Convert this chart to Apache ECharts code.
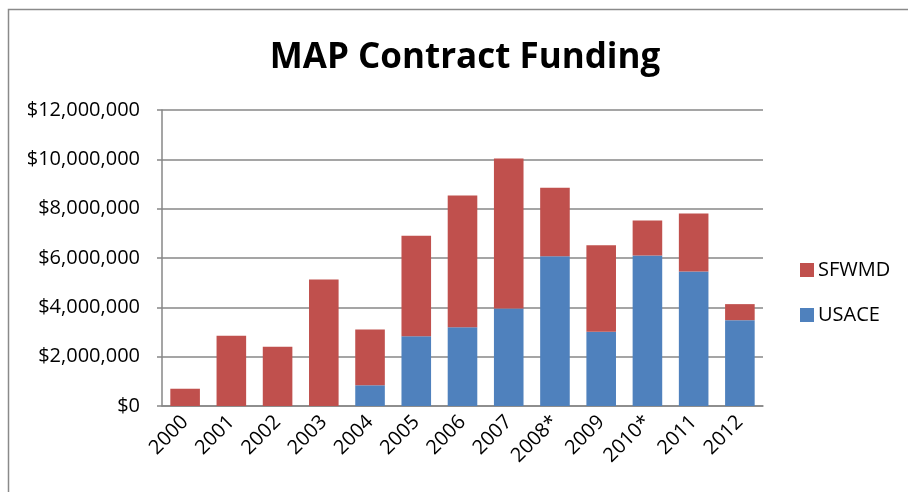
<!DOCTYPE html>
<html>
<head>
<meta charset="utf-8">
<script src="https://cdn.jsdelivr.net/npm/echarts@6/dist/echarts.min.js"></script>
<style>
  html, body { margin: 0; padding: 0; background: #fff; }
  #chart { width: 908px; height: 492px; }
</style>
</head>
<body>
<div id="chart"></div>
<script>
// Fiscal years (asterisk marks partial-year figures)
const years = ['2000', '2001', '2002', '2003', '2004', '2005', '2006', '2007', '2008*', '2009', '2010*', '2011', '2012'];

// Funding by agency, in dollars
const usace = [0, 0, 0, 0, 840000, 2830000, 3190000, 3950000, 6070000, 3010000, 6100000, 5450000, 3480000];
const sfwmd = [700000, 2850000, 2400000, 5130000, 2260000, 4070000, 5340000, 6080000, 2780000, 3510000, 1420000, 2350000, 650000];

// Value axis ticks
const yTicks = [0, 2000000, 4000000, 6000000, 8000000, 10000000, 12000000];

const FONT = 'Open Sans';
const GRAY = '#878787';

function money(v) {
  return '$' + Math.round(v).toLocaleString('en-US');
}

const chart = echarts.init(document.getElementById('chart'), null, { renderer: 'canvas' });

chart.setOption({
  backgroundColor: '#ffffff',
  animation: false,
  textStyle: { fontFamily: FONT },
  graphic: [{
    type: 'rect',
    shape: { x: 8.5, y: 9.5, width: 1000, height: 1000 },
    style: { fill: 'none', stroke: '#8a8a8a', lineWidth: 1.5 },
    silent: true
  }],
  title: {
    text: 'MAP Contract Funding',
    left: 460,
    textAlign: 'center',
    top: 36,
    textStyle: { fontFamily: FONT, fontWeight: 'bold', fontSize: 35, color: '#000' }
  },
  legend: {
    orient: 'vertical',
    left: 800,
    top: 260,
    padding: 0,
    itemWidth: 14,
    itemHeight: 14,
    itemGap: 25,
    icon: 'rect',
    data: ['SFWMD', 'USACE'],
    textStyle: { fontFamily: FONT, fontSize: 20, color: '#000', padding: [0, 0, 0, -1] }
  },
  grid: { left: 162, right: 145, top: 110, bottom: 86, containLabel: false },
  xAxis: {
    type: 'category',
    data: years,
    axisLine: { lineStyle: { color: GRAY, width: 1.5 } },
    axisTick: { show: false },
    axisLabel: {
      rotate: 45,
      interval: 0,
      margin: 13,
      fontFamily: FONT,
      fontSize: 20,
      color: '#000'
    }
  },
  yAxis: {
    type: 'value',
    min: yTicks[0],
    max: yTicks[yTicks.length - 1],
    interval: yTicks[1] - yTicks[0],
    axisLine: { show: true, lineStyle: { color: GRAY, width: 1.5 } },
    axisTick: { show: true, length: 5, lineStyle: { color: GRAY, width: 1.5 } },
    splitLine: { lineStyle: { color: GRAY, width: 1.5 } },
    axisLabel: {
      margin: 22,
      fontFamily: FONT,
      fontSize: 20,
      color: '#000',
      formatter: money
    }
  },
  series: [
    {
      name: 'USACE',
      type: 'bar',
      stack: 'total',
      data: usace,
      barCategoryGap: '36%',
      itemStyle: { color: '#4F81BD' }
    },
    {
      name: 'SFWMD',
      type: 'bar',
      stack: 'total',
      data: sfwmd,
      barCategoryGap: '36%',
      itemStyle: { color: '#C0504D' }
    }
  ]
});
</script>
</body>
</html>
